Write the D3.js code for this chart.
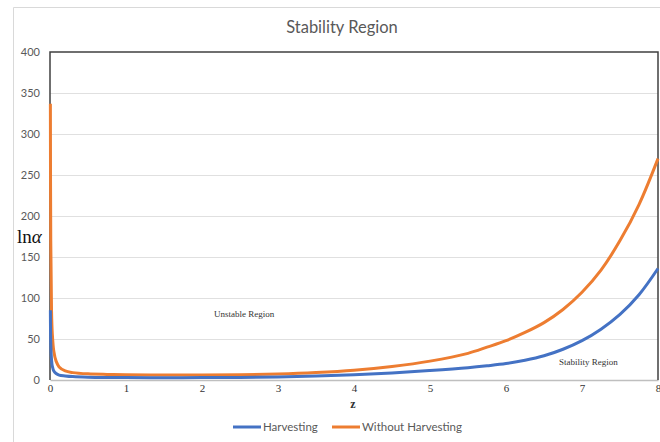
<!DOCTYPE html>
<html>
<head>
<meta charset="utf-8">
<script src="https://cdn.jsdelivr.net/npm/d3@7"></script>
<style>
  body { margin: 0; background: #fff; }
  svg { display: block; }
</style>
</head>
<body>
<div id="chart"></div>
<script>
// values
const zValues = [0.005, 0.01, 0.02, 0.03, 0.05, 0.08, 0.12, 0.2, 0.3, 0.5, 0.75, 1, 1.5, 2, 2.5, 3, 3.5, 4, 4.5, 5, 5.5, 5.75, 6, 6.25, 6.5, 6.75, 7, 7.25, 7.5, 7.75, 8];
const withoutHarvesting = [337, 170, 85, 57, 35, 23, 16, 11, 9, 7.5, 6.8, 6.4, 6, 6, 6.4, 7.4, 9.2, 12, 16.5, 23, 32.5, 40, 48, 58, 70, 86, 107, 134, 170, 214, 270];
const harvesting = [85, 45, 25, 17, 11, 8, 6, 5, 4.2, 3.5, 3.1, 2.9, 2.8, 2.9, 3.2, 3.8, 4.8, 6.3, 8.5, 11.5, 15, 17.3, 20, 24, 29.5, 37.5, 48, 62, 80, 104, 136];
const yTicks = [0, 50, 100, 150, 200, 250, 300, 350, 400];
const xTicks = [0, 1, 2, 3, 4, 5, 6, 7, 8];

const width = 660, height = 442;
const plot = { left: 50, right: 658, top: 52, bottom: 380 };

const svg = d3.select('#chart').append('svg')
    .attr('width', width)
    .attr('height', height);

// outer chart frame
svg.append('path')
    .attr('d', `M13.5,${height} V7.5 H${width}`)
    .attr('fill', 'none')
    .attr('stroke', '#d9d9d9')
    .attr('stroke-width', 1);

const x = d3.scaleLinear().domain([0, 8]).range([plot.left, plot.right]);
const y = d3.scaleLinear().domain([0, 400]).range([plot.bottom, plot.top]);

// gridlines
svg.append('g')
    .selectAll('line')
    .data(yTicks.filter(d => d > 0 && d < 400))
    .join('line')
    .attr('x1', plot.left).attr('x2', plot.right)
    .attr('y1', d => y(d) + 0.5).attr('y2', d => y(d) + 0.5)
    .attr('stroke', '#e0e0e0')
    .attr('stroke-width', 1.2);

// y axis labels
const yAxis = d3.axisLeft(y).tickValues(yTicks).tickSize(0).tickPadding(10);
svg.append('g')
    .attr('transform', `translate(${plot.left},0)`)
    .call(yAxis)
    .call(g => g.select('.domain').remove())
    .selectAll('text')
    .attr('font-family', 'Lato, "Open Sans", sans-serif')
    .attr('font-size', 11)
    .attr('fill', '#595959');

// x axis
const xAxis = d3.axisBottom(x).tickValues(xTicks).tickSize(0).tickPadding(4);
svg.append('g')
    .attr('transform', `translate(0,${plot.bottom})`)
    .call(xAxis)
    .call(g => g.select('.domain').attr('stroke', '#bfbfbf').attr('stroke-width', 1.5))
    .selectAll('text')
    .attr('font-family', '"Liberation Serif", "DejaVu Serif", serif')
    .attr('font-size', 11)
    .attr('fill', '#333');

// plot border (top, left, right)
svg.append('path')
    .attr('d', `M${plot.left},${plot.bottom} V${plot.top} H${plot.right} V${plot.bottom}`)
    .attr('fill', 'none')
    .attr('stroke', '#404040')
    .attr('stroke-width', 1.5);

// title
svg.append('text')
    .attr('x', 342).attr('y', 33)
    .attr('text-anchor', 'middle')
    .attr('font-family', 'Lato, "Open Sans", sans-serif')
    .attr('font-size', 16.5)
    .attr('fill', '#595959')
    .text('Stability Region');

// axis titles
svg.append('text')
    .attr('x', 353).attr('y', 408)
    .attr('text-anchor', 'middle')
    .attr('font-family', '"Liberation Serif", serif')
    .attr('font-size', 12)
    .attr('font-weight', 'bold')
    .attr('fill', '#333')
    .text('z');

const yTitle = svg.append('text')
    .attr('x', 17).attr('y', 243)
    .attr('font-family', '"Liberation Serif", serif')
    .attr('font-size', 19)
    .attr('fill', '#111');
yTitle.append('tspan').text('ln');
yTitle.append('tspan').attr('font-style', 'italic').text('α');

// curves
const line = d3.line()
    .x(d => x(d[0]))
    .y(d => y(d[1]))
    .curve(d3.curveCatmullRom.alpha(0.5));

const series = [
    { name: 'Without Harvesting', values: withoutHarvesting, color: '#ED7D31' },
    { name: 'Harvesting', values: harvesting, color: '#4472C4' }
];

svg.append('g')
    .selectAll('path')
    .data(series)
    .join('path')
    .attr('fill', 'none')
    .attr('stroke', d => d.color)
    .attr('stroke-width', 3)
    .attr('stroke-linejoin', 'round')
    .attr('d', d => line(zValues.map((z, i) => [z, d.values[i]])));

// region labels
svg.append('text')
    .attr('x', 214).attr('y', 317)
    .attr('font-family', '"Liberation Serif", serif')
    .attr('font-size', 9)
    .attr('fill', '#333')
    .text('Unstable Region');

svg.append('text')
    .attr('x', 559).attr('y', 365)
    .attr('font-family', '"Liberation Serif", serif')
    .attr('font-size', 9)
    .attr('fill', '#333')
    .text('Stability Region');

// legend
const legendItems = [
    { name: 'Harvesting', color: '#4472C4', x: 233 },
    { name: 'Without Harvesting', color: '#ED7D31', x: 332 }
];
const legend = svg.append('g')
    .selectAll('g')
    .data(legendItems)
    .join('g')
    .attr('transform', d => `translate(${d.x},427)`);
legend.append('line')
    .attr('x1', 0).attr('x2', 28)
    .attr('stroke', d => d.color)
    .attr('stroke-width', 3);
legend.append('text')
    .attr('x', 30).attr('y', 4)
    .attr('font-family', 'Lato, "Open Sans", sans-serif')
    .attr('font-size', 11.5)
    .attr('fill', '#595959')
    .text(d => d.name);
</script>
</body>
</html>
